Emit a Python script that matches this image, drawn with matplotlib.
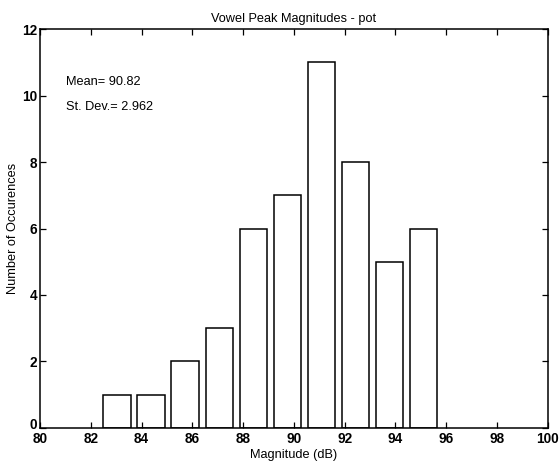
import matplotlib.pyplot as plt
import matplotlib.transforms as mtransforms
import numpy as np

# histogram of vowel peak magnitudes, 10 bins
bin_centers = [83.03, 84.37, 85.71, 87.06, 88.40, 89.74, 91.08, 92.42, 93.77, 95.11]
counts = [1, 1, 2, 3, 6, 7, 11, 8, 5, 6]
mean_val = 90.82
std_val = 2.962

plt.rcParams['font.family'] = ['Liberation Sans', 'DejaVu Sans']
plt.rcParams['font.size'] = 9

fig = plt.figure(figsize=(5.59, 4.65), dpi=100)
ax = fig.add_axes([0.0716, 0.0796, 0.9084, 0.858])

spacing = np.mean(np.diff(bin_centers))
ax.bar(bin_centers, counts, width=0.8 * spacing, color='white',
       edgecolor='black', linewidth=1.1)

ax.set_xlim(80, 100)
ax.set_ylim(0, 12)
ax.set_xticks(np.arange(80, 101, 2))
ax.set_yticks(np.arange(0, 13, 2))
ax.tick_params(direction='in', top=True, right=True, length=4,
               width=0.9, labelsize=9.8, pad=2)
ax.tick_params(axis='x', pad=3)
for lbl in ax.get_xticklabels() + ax.get_yticklabels():
    lbl.set_fontweight('bold')
# lift the "0" label a little so it clears the "80" below it
zero_lbl = ax.get_yticklabels()[0]
zero_lbl.set_transform(zero_lbl.get_transform() +
                       mtransforms.ScaledTranslation(0, 3 / 72, fig.dpi_scale_trans))
for s in ax.spines.values():
    s.set_linewidth(1.1)

ax.set_title('Vowel Peak Magnitudes - pot', fontsize=9.2, pad=5)
ax.set_xlabel('Magnitude (dB)', fontsize=9.2, labelpad=2)
ax.set_ylabel('Number of Occurences', fontsize=9.2, labelpad=2)

ax.text(0.051, 0.867, 'Mean= %.2f' % mean_val, transform=ax.transAxes,
        fontsize=9.2, va='center')
ax.text(0.051, 0.805, 'St. Dev.= %.3f' % std_val, transform=ax.transAxes,
        fontsize=9.2, va='center')

fig.savefig('out.png', dpi=100)
plt.close(fig)
